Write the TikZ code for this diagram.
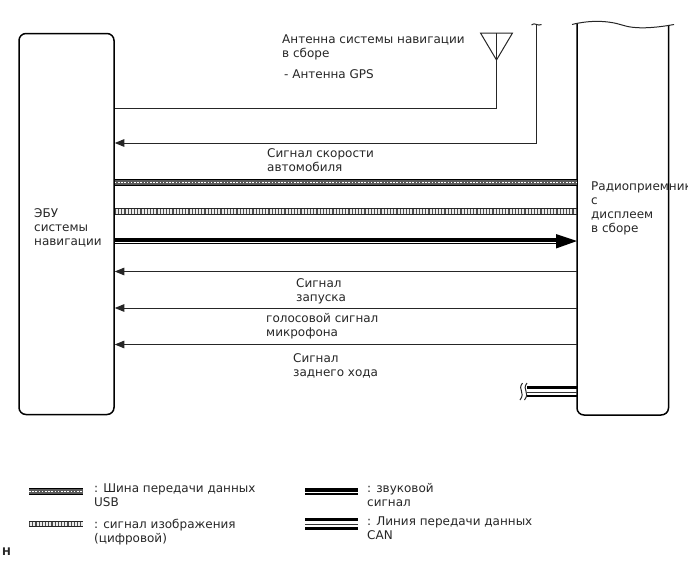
\documentclass[tikz,border=0pt]{standalone}
\usepackage{fontspec}
\setmainfont{DejaVu Sans}
\usetikzlibrary{arrows.meta}
\tikzset{
  x=1pt,y=-1pt,
  block/.style={draw=black,line width=1.5pt,rounded corners=7pt,inner sep=0pt},
  lbl/.style={anchor=north west,inner sep=0pt,align=left,font=\fontsize{12}{14}\selectfont,text=black!85},
  wire/.style={draw=black!85,line width=1pt},
  tipin/.style={wire,{Triangle[length=9.5pt,width=7.5pt]}-},
  usbouter/.style={draw=black,line width=6.4pt},
  usbfill/.style={draw=black!65,line width=4.6pt},
  usbinner/.style={draw=white,line width=1.8pt,dash pattern=on 1.6pt off 1.6pt},
  vidouter/.style={draw=black!85,line width=6.4pt},
  vidinner/.style={draw=black!8,line width=4.2pt},
  vidtick/.style={draw=black!70,line width=4.2pt,dash pattern=on 1.2pt off 2pt},
  audio/.style={draw=black,line width=4pt},
  audiosub/.style={draw=black,line width=1.2pt},
  canline/.style={draw=black,line width=2.4pt},
  canmid/.style={draw=black!80,line width=1pt},
}
\begin{document}
\begin{tikzpicture}
\useasboundingbox (0,0) rectangle (688,560);
% ECU
\node[block,minimum width=95pt,minimum height=381pt] (ecu) at (66.5,224) {};
\node[lbl] (ecut) at (34,208.5) {ЭБУ\\системы\\навигации};
% radio
\coordinate (rtl) at (577,24);
\coordinate (rtr) at (668.5,25);
\draw[line width=1.5pt,line join=round] (rtl) -- (577,408) to[out=-90,in=180] (584,415) -- (661,415) to[out=0,in=-90] (rtr |- 0,408) -- (rtr);
\draw[line width=1pt,draw=black!85] (572,24.5) .. controls (590,20) and (608,20.5) .. (622,25) .. controls (635,29.5) and (655,28) .. (674,24.5);
\node[lbl] (radt) at (591,181.5) {Радиоприемник\\с\\дисплеем\\в сборе};
% antenna
\coordinate (anta) at (480.5,33);
\coordinate (antb) at (512.5,33);
\coordinate (antc) at (496.5,60);
\coordinate (antm) at (496.5,33);
\draw[wire] (anta) -- (antb) -- (antc) -- cycle;
\draw[wire] (antm) -- (antc);
\node[lbl] (antt) at (282,35) {Антенна системы навигации\\в сборе};
\node[lbl] (gpst) at (284,69) {- Антенна GPS};
\draw[wire] (ecu.east |- 0,108) -| (antc);
% speed
\coordinate (sp) at (536.5,24.5);
\draw[tipin] (ecu.east |- 0,143) -| (sp);
\draw[wire] (531.5,25) .. controls (533,23) and (535,24) .. (sp) .. controls (538,25) and (540,25.5) .. (541.5,24.5);
\node[lbl] (spt) at (267,148) {Сигнал скорости\\автомобиля};
% USB
\draw[usbouter] (ecu.east |- 0,182.5) -- (rtl |- 0,182.5);
\draw[usbfill] (ecu.east |- 0,182.5) -- (rtl |- 0,182.5);
\draw[usbinner] (ecu.east |- 0,182.5) -- (rtl |- 0,182.5);
% video
\draw[vidouter] (ecu.east |- 0,211.5) -- (rtl |- 0,211.5);
\draw[vidinner] (ecu.east |- 0,211.5) -- (rtl |- 0,211.5);
\draw[vidtick] (ecu.east |- 0,211.5) -- (rtl |- 0,211.5);
% audio
\draw[audio] (ecu.east |- 0,239.5) -- (560,239.5);
\draw[audiosub] (ecu.east |- 0,243.5) -- (560,243.5);
\fill[black] (556,234) -- (rtl |- 0,241) -- (556,248.5) -- cycle;
% others
\draw[tipin] (ecu.east |- 0,271.5) -- (rtl |- 0,271.5);
\node[lbl] (st) at (296,278) {Сигнал\\запуска};
\draw[tipin] (ecu.east |- 0,308) -- (rtl |- 0,308);
\node[lbl] (mt) at (266,313) {голосовой сигнал\\микрофона};
\draw[tipin] (ecu.east |- 0,344.5) -- (rtl |- 0,344.5);
\node[lbl] (rt) at (293,353.5) {Сигнал\\заднего хода};
% CAN
\coordinate (cana) at (527,387.3);
\coordinate (canb) at (527,392);
\coordinate (canc) at (527,396);
\draw[canline] (cana) -- (rtl |- cana);
\draw[canmid] (canb) -- (rtl |- canb);
\draw[canline] (canc) -- (rtl |- canc);
\draw[wire] (522.5,383) .. controls (517,390) and (526,392) .. (520,400);
\draw[wire] (527,383) .. controls (521.5,390) and (530.5,392) .. (524.5,400);
% legend
\coordinate (l1) at (29,491.5);
\coordinate (l1e) at (83,491.5);
\draw[usbouter] (l1) -- (l1e);
\draw[usbfill] (l1) -- (l1e);
\draw[usbinner] (l1) -- (l1e);
\node[lbl] (l1t) at (94,483.5) {: Шина передачи данных\\USB};
\coordinate (l2) at (29,524);
\coordinate (l2e) at (83,524);
\draw[vidouter] (l2) -- (l2e);
\draw[vidinner] (l2) -- (l2e);
\draw[vidtick] (l2) -- (l2e);
\node[lbl] (l2t) at (94,518.5) {: сигнал изображения\\(цифровой)};
\coordinate (l3) at (305,490);
\coordinate (l3e) at (358,490);
\coordinate (l3b) at (305,494);
\coordinate (l3f) at (358,494);
\draw[audio] (l3) -- (l3e);
\draw[audiosub] (l3b) -- (l3f);
\node[lbl] (l3t) at (367,483.5) {: звуковой\\сигнал};
\coordinate (l4) at (305,519.5);
\coordinate (l4e) at (358,519.5);
\coordinate (l4b) at (305,524);
\coordinate (l4f) at (358,524);
\coordinate (l4c) at (305,528.5);
\coordinate (l4g) at (358,528.5);
\draw[canline] (l4) -- (l4e);
\draw[canmid] (l4b) -- (l4f);
\draw[canline] (l4c) -- (l4g);
\node[lbl] (l4t) at (367,516.5) {: Линия передачи данных\\CAN};
\node[lbl,font=\fontsize{10.5}{11}\selectfont\bfseries] (h) at (2,548) {H};
\end{tikzpicture}
\end{document}
